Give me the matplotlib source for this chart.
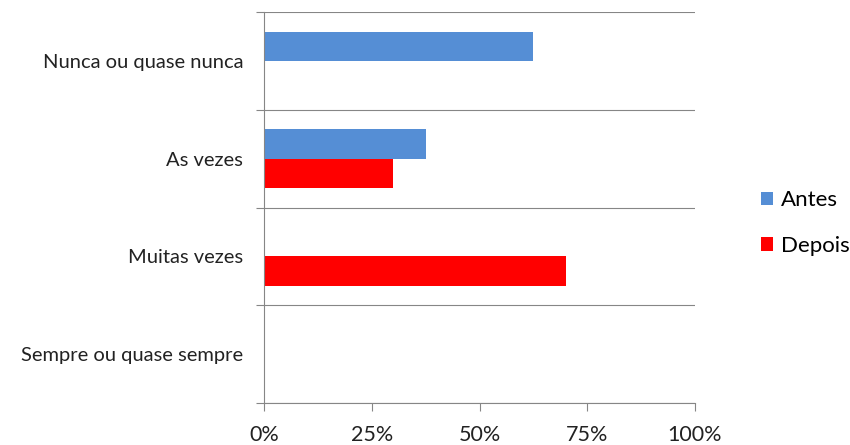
import matplotlib
matplotlib.use("Agg")
import matplotlib.pyplot as plt
import numpy as np

categories = ["Nunca ou quase nunca", "As vezes", "Muitas vezes", "Sempre ou quase sempre"]
antes = [62.5, 37.5, 0, 0]
depois = [0, 30, 70, 0]
xticks = [0, 25, 50, 75, 100]
xtick_labels = ["0%", "25%", "50%", "75%", "100%"]

plt.rcParams["font.family"] = ["Lato", "DejaVu Sans"]

blue = "#558ED5"
red = "#FF0000"
grey = "#868686"

fig = plt.figure(figsize=(8.5, 4.45), dpi=100)
ax = fig.add_axes([264 / 850, 42 / 445, 431 / 850, 391 / 445])

y = np.arange(len(categories))
h = 0.3
ax.barh(y - h / 2, antes, height=h, color=blue, label="Antes")
ax.barh(y + h / 2, depois, height=h, color=red, label="Depois")

ax.set_xlim(0, 100)
ax.set_ylim(len(categories) - 0.5, -0.5)

ax.set_xticks(xticks)
ax.set_xticklabels(xtick_labels, fontsize=15.5, color="#222222")
ax.tick_params(axis="x", length=6, width=0.8, color=grey, pad=10)

ax.set_yticks(y)
ax.set_yticklabels(categories, fontsize=14.5, color="#222222")
ax.tick_params(axis="y", which="major", length=0, pad=15)
ax.set_yticks(np.arange(len(categories) + 1) - 0.5, minor=True)
ax.tick_params(axis="y", which="minor", length=6, width=0.8, color=grey)
ax.grid(True, axis="y", which="minor", color=grey, linewidth=0.8)
ax.set_axisbelow(True)

for side in ["top", "right"]:
    ax.spines[side].set_visible(False)
for side in ["left", "bottom"]:
    ax.spines[side].set_color(grey)
    ax.spines[side].set_linewidth(0.8)

ax.legend(loc="center left", bbox_to_anchor=(761 / 850, 222 / 445),
          bbox_transform=fig.transFigure, frameon=False, fontsize=16,
          handlelength=0.55, handleheight=0.55, handletextpad=0.35,
          labelspacing=1.15, borderpad=0, borderaxespad=0)

fig.savefig("out.png", dpi=100)
